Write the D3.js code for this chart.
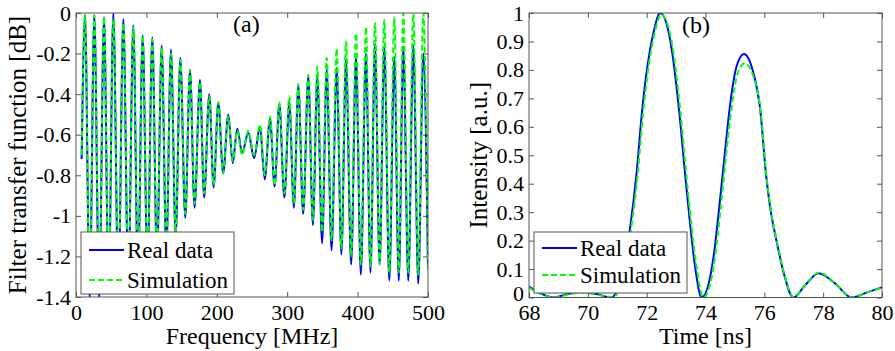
<!DOCTYPE html>
<html><head><meta charset="utf-8">
<script src="https://cdn.jsdelivr.net/npm/d3@7"></script>
<style>
body{margin:0;background:#fff;}
svg text{font-family:"Liberation Serif","Times New Roman",serif;fill:#000;}
</style></head><body>
<svg id="c" width="895" height="351"></svg>
<script>
// ---------- Panel (a): filter transfer function ----------
const peakFreq = [12.8, 26.0, 39.8, 53.0, 67.2, 81.4, 94.7, 108.4, 121.7, 134.9, 148.2, 161.9, 176.1, 189.3, 202.1, 216.3, 229.1, 244.7, 261.4, 275.6, 288.8, 303.0, 315.8, 330.0, 342.8, 356.1, 370.3, 383.5, 397.7, 411.9, 424.7, 437.9, 452.1, 464.9, 479.1, 493.3];
const peakReal = [-0.01, -0.01, -0.02, 0.0, -0.03, -0.06, -0.11, -0.12, -0.16, -0.18, -0.22, -0.28, -0.33, -0.40, -0.44, -0.50, -0.57, -0.59, -0.56, -0.52, -0.45, -0.44, -0.36, -0.31, -0.31, -0.28, -0.27, -0.23, -0.215, -0.20, -0.15, -0.16, -0.215, -0.165, -0.16, -0.20];
const peakSim  = [-0.01, -0.01, -0.02, -0.03, -0.05, -0.07, -0.11, -0.13, -0.17, -0.20, -0.23, -0.28, -0.34, -0.41, -0.44, -0.51, -0.58, -0.58, -0.55, -0.51, -0.44, -0.41, -0.35, -0.305, -0.265, -0.22, -0.175, -0.14, -0.10, -0.07, -0.05, -0.035, -0.02, 0.0, 0.0, 0.0];
const troughFreq = [19.4, 32.9, 46.4, 60.2, 74.3, 88.0, 101.5, 115.0, 128.3, 141.6, 155.2, 168.4, 182.0, 195.5, 209.0, 222.6, 236.0, 253.0, 268.0, 282.1, 296.0, 309.5, 322.7, 336.5, 349.6, 363.0, 377.0, 390.9, 404.6, 418.3, 431.3, 445.0, 458.5, 472.0, 486.2];
const troughReal = [-1.41, -1.41, -1.38, -1.36, -1.33, -1.30, -1.26, -1.22, -1.17, -1.10, -1.01, -0.96, -0.91, -0.86, -0.79, -0.74, -0.69, -0.715, -0.82, -0.855, -0.91, -0.96, -0.99, -1.045, -1.135, -1.17, -1.19, -1.24, -1.29, -1.28, -1.24, -1.32, -1.32, -1.32, -1.335];
const troughSim  = [-1.38, -1.38, -1.35, -1.33, -1.31, -1.28, -1.24, -1.20, -1.15, -1.08, -0.99, -0.94, -0.89, -0.85, -0.79, -0.73, -0.70, -0.70, -0.80, -0.85, -0.89, -0.94, -0.97, -1.02, -1.08, -1.12, -1.16, -1.20, -1.24, -1.25, -1.24, -1.28, -1.28, -1.28, -1.29];
const edgeFreq = [8, 500];
const edgeReal = [-0.72, -1.26];
const edgeSim  = [-0.70, -1.27];
const freqTicks = [0, 100, 200, 300, 400, 500];
const dbTicks = [0, -0.2, -0.4, -0.6, -0.8, -1, -1.2, -1.4];

// ---------- Panel (b): intensity vs time ----------
const timeReal = [68.0, 68.4, 68.83, 69.3, 69.8, 70.3, 70.8, 71.1, 71.43, 71.66, 71.83, 71.97, 72.23, 72.46, 72.8, 73.1, 73.31, 73.48, 73.65, 73.87, 74.27, 74.45, 74.65, 74.84, 75.05, 75.31, 75.6, 75.86, 76.06, 76.2, 76.42, 76.65, 76.99, 77.4, 77.84, 78.4, 78.97, 79.5, 80.0];
const intReal  = [0.038, 0.014, 0.0, 0.012, 0.02, 0.012, 0.0, 0.06, 0.24, 0.44, 0.64, 0.77, 0.93, 1.0, 0.905, 0.66, 0.43, 0.255, 0.105, 0.0, 0.14, 0.30, 0.50, 0.68, 0.81, 0.856, 0.80, 0.66, 0.43, 0.315, 0.196, 0.09, 0.0, 0.045, 0.085, 0.05, 0.0, 0.018, 0.036];
const timeSim = [68.0, 68.4, 68.85, 69.3, 69.8, 70.3, 70.86, 71.15, 71.47, 71.70, 71.87, 72.01, 72.27, 72.5, 72.84, 73.14, 73.35, 73.52, 73.7, 73.93, 74.32, 74.5, 74.7, 74.89, 75.1, 75.33, 75.62, 75.88, 76.07, 76.21, 76.43, 76.66, 77.0, 77.4, 77.86, 78.4, 78.98, 79.5, 80.0];
const intSim  = [0.035, 0.012, 0.0, 0.01, 0.018, 0.01, 0.0, 0.06, 0.24, 0.44, 0.64, 0.77, 0.93, 0.995, 0.905, 0.66, 0.43, 0.255, 0.105, 0.0, 0.14, 0.30, 0.50, 0.67, 0.79, 0.823, 0.78, 0.65, 0.43, 0.315, 0.196, 0.09, 0.0, 0.045, 0.088, 0.05, 0.0, 0.018, 0.035];
const timeTicks = [68, 70, 72, 74, 76, 78, 80];
const intTicks = [0, 0.1, 0.2, 0.3, 0.4, 0.5, 0.6, 0.7, 0.8, 0.9, 1];

const seriesNames = ["Real data", "Simulation"];
const BLUE = "#0000ff", GREEN = "#00ff00", AXC = "#555";
const FONT = "'Liberation Serif','Times New Roman',serif";

function merge(fa, va, fb, vb, fc, vc) {
  const pts = [];
  fa.forEach((f, i) => pts.push([f, va[i]]));
  fb.forEach((f, i) => pts.push([f, vb[i]]));
  fc.forEach((f, i) => pts.push([f, vc[i]]));
  return pts.sort((a, b) => a[0] - b[0]);
}
const realA = merge(peakFreq, peakReal, troughFreq, troughReal, edgeFreq, edgeReal);
const simA = merge(peakFreq, peakSim, troughFreq, troughSim, edgeFreq, edgeSim);
const realB = timeReal.map((t, i) => [t, intReal[i]]);
const simB = timeSim.map((t, i) => [t, intSim[i]]);

const svg = d3.select("#c");

function panel(o) {
  const x = d3.scaleLinear().domain(o.xd).range([o.l, o.r]);
  const y = d3.scaleLinear().domain(o.yd).range([o.b, o.t]);
  const g = svg.append("g").attr("font-family", FONT);
  const cid = "clip" + o.id;
  svg.append("defs").append("clipPath").attr("id", cid)
    .append("rect").attr("x", o.l).attr("y", o.t).attr("width", o.r - o.l).attr("height", o.b - o.t);

  const styleAxis = s => {
    s.select(".domain").remove();
    s.attr("font-family", FONT).attr("font-size", null);
    s.selectAll("line").attr("stroke", AXC);
    s.selectAll("text").attr("font-size", 22);
  };
  g.append("g").attr("transform", `translate(0,${o.b})`)
    .call(d3.axisBottom(x).tickValues(o.xt).tickSize(-5).tickPadding(7).tickFormat(o.xf)).call(styleAxis);
  g.append("g").attr("transform", `translate(0,${o.t})`)
    .call(d3.axisTop(x).tickValues(o.xt).tickSize(-5).tickFormat("")).call(styleAxis);
  const ya = g.append("g").attr("transform", `translate(${o.l},0)`)
    .call(d3.axisLeft(y).tickValues(o.yt).tickSize(-5).tickPadding(5).tickFormat(o.yf)).call(styleAxis);
  if (o.liftZero) ya.selectAll(".tick text").filter(d => d === 0).attr("dy", "0.12em");
  g.append("g").attr("transform", `translate(${o.r},0)`)
    .call(d3.axisRight(y).tickValues(o.yt).tickSize(-5).tickFormat("")).call(styleAxis);

  const line = d3.line().x(d => x(d[0])).y(d => y(d[1])).curve(d3.curveMonotoneX);
  const lg = g.append("g").attr("clip-path", `url(#${cid})`);
  lg.append("path").datum(o.s1).attr("d", line).attr("fill", "none")
    .attr("stroke", BLUE).attr("stroke-width", 2);
  lg.append("path").datum(o.s2).attr("d", line).attr("fill", "none")
    .attr("stroke", GREEN).attr("stroke-width", 2).attr("stroke-dasharray", "6,3");

  g.append("rect").attr("x", o.l).attr("y", o.t).attr("width", o.r - o.l).attr("height", o.b - o.t)
    .attr("fill", "none").attr("stroke", AXC).attr("stroke-width", 1);

  // legend
  const L = o.leg;
  g.append("rect").attr("x", L.x).attr("y", L.y).attr("width", L.w).attr("height", L.h)
    .attr("fill", "#fff").attr("stroke", AXC).attr("stroke-width", 1);
  [[BLUE, null], [GREEN, "6,3"]].forEach((c, i) => {
    const ly = L.y + L.rows[i];
    g.append("line").attr("x1", L.x + 8).attr("x2", L.x + 43).attr("y1", ly).attr("y2", ly)
      .attr("stroke", c[0]).attr("stroke-width", 2).attr("stroke-dasharray", c[1]);
    g.append("text").attr("x", L.x + 46).attr("y", ly + 8).attr("font-size", 23).text(seriesNames[i]);
  });

  g.append("text").attr("x", (o.l + o.r) / 2).attr("y", 344).attr("text-anchor", "middle")
    .attr("font-size", 24).text(o.xl);
  g.append("text").attr("transform", `translate(${o.ylx},${(o.t + o.b) / 2}) rotate(-90)`)
    .attr("text-anchor", "middle").attr("font-size", 25).text(o.yl);
  g.append("text").attr("x", o.tag[0]).attr("y", o.tag[1]).attr("font-size", 24).text(o.tagText);
}

const numFmt = d => (d === 0 ? "0" : String(+d.toFixed(1)));

panel({
  id: "a", l: 76, r: 428, t: 13, b: 297,
  xd: [0, 500], yd: [-1.4, 0], xt: freqTicks, yt: dbTicks,
  xf: d => String(d), yf: numFmt,
  s1: realA, s2: simA,
  leg: { x: 81, y: 232, w: 153, h: 62, rows: [18, 48] },
  xl: "Frequency [MHz]", yl: "Filter transfer function [dB]", ylx: 26,
  tag: [233, 32], tagText: "(a)"
});
panel({
  id: "b", l: 529, r: 882, t: 13, b: 297.5,
  xd: [68, 80], yd: [0, 1], xt: timeTicks, yt: intTicks,
  xf: d => String(d), yf: numFmt, liftZero: true,
  s1: realB, s2: simB,
  leg: { x: 534, y: 232, w: 153, h: 61, rows: [16, 43] },
  xl: "Time [ns]", yl: "Intensity [a.u.]", ylx: 487,
  tag: [682, 33], tagText: "(b)"
});
</script>
</body></html>
